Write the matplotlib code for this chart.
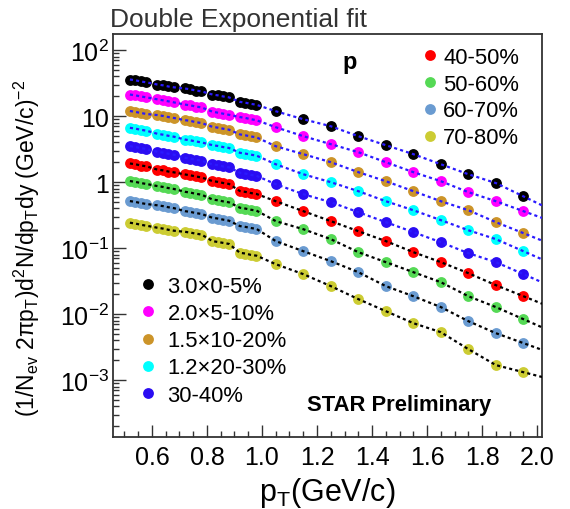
import numpy as np
import matplotlib
matplotlib.use("Agg")
import matplotlib.pyplot as plt
from matplotlib.ticker import LogLocator, MultipleLocator, NullFormatter

plt.rcParams['font.family'] = ['Liberation Sans', 'DejaVu Sans']
plt.rcParams['mathtext.fontset'] = 'custom'
plt.rcParams['mathtext.rm'] = 'Liberation Sans'
plt.rcParams['mathtext.it'] = 'Liberation Sans:italic'
plt.rcParams['mathtext.bf'] = 'Liberation Sans:bold'

# === Data ===
pt = [0.52, 0.54, 0.56, 0.58, 0.62, 0.64, 0.66, 0.68, 0.72, 0.74, 0.76, 0.78,
      0.82, 0.84, 0.86, 0.88, 0.92, 0.94, 0.96, 0.98,
      1.05, 1.15, 1.25, 1.35, 1.45, 1.55, 1.65, 1.75, 1.85, 1.95]

y_0_5 = [36.0, 35.0, 33.6, 32.6, 30.2, 29.4, 28.2, 27.4, 26.3, 25.5, 24.5, 23.8,
         21.3, 20.7, 19.9, 19.3, 16.5, 16.0, 15.4, 14.9,
         11.9, 9.0, 7.05, 4.98, 3.64, 2.66, 1.87, 1.32, 0.97, 0.61]
y_5_10 = [21.3, 20.7, 19.9, 19.3, 18.0, 17.4, 16.8, 16.2, 15.0, 14.6, 14.0, 13.6,
          11.7, 11.3, 10.9, 10.5, 9.7, 9.4, 9.0, 8.7,
          6.81, 4.98, 3.77, 2.85, 2.01, 1.42, 1.035, 0.706, 0.515, 0.364]
y_10_20 = [12.0, 11.6, 11.2, 10.8, 10.4, 10.1, 9.7, 9.4, 8.7, 8.5, 8.1, 7.9,
           6.9, 6.7, 6.45, 6.25, 5.3, 5.13, 4.93, 4.78,
           3.51, 2.66, 2.01, 1.42, 1.035, 0.731, 0.515, 0.376, 0.248, 0.169]
y_20_30 = [6.67, 6.48, 6.22, 6.03, 5.41, 5.25, 5.05, 4.89, 4.43, 4.30, 4.14, 4.01,
           3.64, 3.54, 3.40, 3.30, 2.79, 2.71, 2.61, 2.53,
           1.87, 1.32, 1.0, 0.731, 0.515, 0.376, 0.266, 0.187, 0.137, 0.090]
y_30_40 = [3.52, 3.42, 3.28, 3.18, 2.89, 2.81, 2.70, 2.61, 2.34, 2.27, 2.19, 2.12,
           1.86, 1.81, 1.73, 1.68, 1.39, 1.35, 1.29, 1.25,
           0.933, 0.658, 0.498, 0.351, 0.248, 0.175, 0.123, 0.084, 0.0614, 0.0404]
y_40_50 = [1.92, 1.87, 1.79, 1.74, 1.55, 1.51, 1.45, 1.41, 1.31, 1.27, 1.22, 1.18,
           1.04, 1.01, 0.97, 0.94, 0.733, 0.712, 0.684, 0.663,
           0.515, 0.364, 0.257, 0.181, 0.128, 0.087, 0.0614, 0.0418, 0.0275, 0.0187]
y_50_60 = [1.04, 1.01, 0.97, 0.94, 0.873, 0.848, 0.814, 0.789, 0.715, 0.695, 0.667, 0.647,
           0.547, 0.531, 0.511, 0.495, 0.410, 0.398, 0.382, 0.371,
           0.257, 0.194, 0.137, 0.087, 0.0614, 0.0433, 0.0305, 0.0187, 0.0128, 0.0084]
y_60_70 = [0.517, 0.502, 0.482, 0.467, 0.446, 0.434, 0.417, 0.404, 0.364, 0.354, 0.340, 0.330,
           0.289, 0.281, 0.270, 0.261, 0.216, 0.210, 0.202, 0.196,
           0.128, 0.090, 0.0636, 0.0433, 0.0266, 0.0187, 0.0128, 0.00783, 0.00515, 0.00364]
y_70_80 = [0.243, 0.236, 0.226, 0.219, 0.204, 0.198, 0.190, 0.184, 0.177, 0.172, 0.166, 0.161,
           0.128, 0.124, 0.120, 0.116, 0.085, 0.083, 0.079, 0.077,
           0.0572, 0.0404, 0.0266, 0.0169, 0.0111, 0.0073, 0.00533, 0.00295, 0.00169, 0.00132]

series = [y_0_5, y_5_10, y_10_20, y_20_30, y_30_40, y_40_50, y_50_60, y_60_70, y_70_80]
labels = ['3.0\u00d70-5%', '2.0\u00d75-10%', '1.5\u00d710-20%', '1.2\u00d720-30%', '30-40%',
          '40-50%', '50-60%', '60-70%', '70-80%']
colors = ['#000000', '#ff00ff', '#cc9429', '#00ffff', '#2a0cf2',
          '#ff0000', '#55d955', '#6a9bd1', '#cccc33']
fit_colors = ['#2a1aff'] * 5 + ['#000000'] * 4

xmin, xmax = 0.458, 2.018
ymin, ymax = 1.37e-4, 175

# === Plotting ===
fig = plt.figure(figsize=(5.7, 5.1), dpi=100)
ax = fig.add_axes([0.198, 0.141, 0.753, 0.790])

handles = []
for y, lab, c, fc in zip(series, labels, colors, fit_colors):
    h, = ax.plot(pt, y, 'o', color=c, markersize=7.8, markeredgewidth=0, label=lab, zorder=3)
    handles.append(h)
    # dotted fit line through the points, carried on to the right edge
    slope = (np.log10(y[-1]) - np.log10(y[-2])) / (pt[-1] - pt[-2])
    xs = list(pt) + [xmax]
    ys = list(y) + [y[-1] * 10 ** (slope * (xmax - pt[-1]))]
    ax.plot(xs, ys, color=fc, lw=1.6, linestyle=(0, (1.4, 1.4)), zorder=4)

ax.set_yscale('log')
ax.set_xlim(xmin, xmax)
ax.set_ylim(ymin, ymax)

ax.set_xticks([0.6, 0.8, 1.0, 1.2, 1.4, 1.6, 1.8, 2.0],
              ['0.6', '0.8', '1.0', '1.2', '1.4', '1.6', '1.8', '2.0'])
ax.xaxis.set_minor_locator(MultipleLocator(0.05))
ax.set_yticks([1e-3, 1e-2, 1e-1, 1, 10, 100],
              ['$10^{-3}$', '$10^{-2}$', '$10^{-1}$', '1', '10', '$10^{2}$'])
ax.yaxis.set_minor_locator(LogLocator(base=10, subs=np.arange(2, 10)))
ax.yaxis.set_minor_formatter(NullFormatter())

ax.tick_params(which='both', direction='in', top=False, right=False, width=1.0, color='#333333')
ax.tick_params(which='major', length=9, labelsize=18)
ax.tick_params(which='minor', length=4.5)
ax.tick_params(axis='x', pad=6)
ax.tick_params(axis='y', pad=3)
for s in ax.spines.values():
    s.set_linewidth(1.3)
    s.set_color('#333333')

ax.set_xlabel('p$_{\\mathrm{T}}$(GeV/c)', fontsize=22, labelpad=4)
ax.set_ylabel('(1/N$_{\\mathrm{ev}}$ 2\u03c0p$_{\\mathrm{T}}$)d$^{2}$N/dp$_{\\mathrm{T}}$dy (GeV/c)$^{-2}$',
              fontsize=16.5)
ax.yaxis.set_label_coords(-0.165, 0.47)

leg1 = ax.legend(handles=handles[:5], loc='upper left', bbox_to_anchor=(0.056, 0.40),
                 frameon=False, fontsize=15.8, handlelength=1.0, handletextpad=0.4,
                 labelspacing=0.28, borderpad=0, borderaxespad=0)
ax.add_artist(leg1)
ax.legend(handles=handles[5:], loc='upper left', bbox_to_anchor=(0.724, 0.968),
          frameon=False, fontsize=15.8, handlelength=0.6, handletextpad=0.3,
          labelspacing=0.26, borderpad=0, borderaxespad=0)

ax.text(0.536, 0.915, 'p', transform=ax.transAxes, fontsize=17, fontweight='bold')
ax.text(0.452, 0.067, 'STAR Preliminary', transform=ax.transAxes, fontsize=15.8, fontweight='bold')
fig.text(110 / 570, 1 - 27 / 510, 'Double Exponential fit', fontsize=19, color='#333333')

fig.savefig('out.png', dpi=100)
